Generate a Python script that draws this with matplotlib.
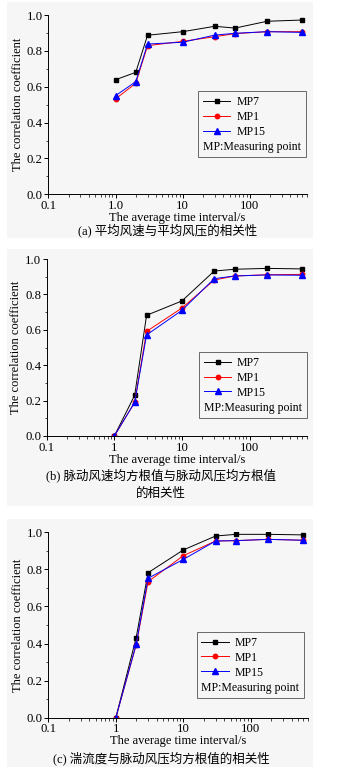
import matplotlib
matplotlib.use('Agg')
import matplotlib.pyplot as plt
from matplotlib.patches import Rectangle
from matplotlib.ticker import FixedLocator, MultipleLocator, FixedFormatter, NullFormatter, FormatStrFormatter

plt.rcParams['font.family'] = ['Liberation Serif', 'Noto Sans CJK SC']
plt.rcParams['font.size'] = 9

# averaging time intervals (s)
intervals = [1, 2, 3, 10, 30, 60, 180, 600]

# (a) mean wind speed vs mean wind pressure
a_mp7 = [0.639, 0.680, 0.887, 0.907, 0.937, 0.927, 0.965, 0.972]
a_mp1 = [0.532, 0.619, 0.829, 0.853, 0.879, 0.896, 0.907, 0.907]
a_mp15 = [0.550, 0.628, 0.838, 0.848, 0.888, 0.898, 0.907, 0.903]

# (b) rms of fluctuating speed vs rms of fluctuating pressure
b_mp7 = [0.0, 0.230, 0.682, 0.763, 0.932, 0.942, 0.947, 0.944]
b_mp1 = [0.0, 0.190, 0.591, 0.723, 0.881, 0.904, 0.911, 0.913]
b_mp15 = [0.0, 0.190, 0.571, 0.710, 0.889, 0.904, 0.910, 0.908]

# (c) turbulence intensity vs rms of fluctuating pressure
c_mp7 = [0.0, 0.432, 0.782, 0.905, 0.980, 0.989, 0.989, 0.986]
c_mp1 = [0.0, 0.392, 0.734, 0.874, 0.953, 0.955, 0.962, 0.957]
c_mp15 = [0.0, 0.396, 0.752, 0.854, 0.953, 0.955, 0.962, 0.957]

xtick_vals = [0.1, 1, 10, 100]
xtick_a = ['0.1', '1.0', '10', '100']
xtick_bc = ['0.1', '1', '10', '100']

captions = ['(a) 平均风速与平均风压的相关性',
            '(b) 脉动风速均方根值与脉动风压均方根值\n的相关性',
            '(c) 湍流度与脉动风压均方根值的相关性']

fig = plt.figure(figsize=(3.43, 7.69), dpi=100)
W, H = 343, 769

# light grey panels behind each sub-figure
for y0, y1 in [(2, 238), (249, 506), (519, 767)]:
    fig.patches.append(Rectangle((7 / W, 1 - y1 / H), 306 / W, (y1 - y0) / H,
                                 transform=fig.transFigure, facecolor='#f6f6f6',
                                 edgecolor='none', zorder=-5))

# axes boxes in pixels: left, right, top, bottom
boxes = [(48.3, 306.7, 15, 194.3), (46.7, 306.7, 259, 436), (48.3, 308, 532.3, 717.7)]
datasets = [(a_mp7, a_mp1, a_mp15), (b_mp7, b_mp1, b_mp15), (c_mp7, c_mp1, c_mp15)]
legend_anchor = [(0.997, 0.206), (1.0, 0.10), (0.985, 0.105)]
caption_x = [0.49, 0.47, 0.471]
caption_y = [230.7, 484, 758]

for i in range(3):
    l, r, t, b = boxes[i]
    ax = fig.add_axes([l / W, 1 - b / H, (r - l) / W, (b - t) / H])
    ax.patch.set_alpha(0)
    mp7, mp1, mp15 = datasets[i]
    ax.plot(intervals, mp7, color='black', lw=0.7, marker='s', ms=3.2, label='MP7')
    ax.plot(intervals, mp1, color='red', lw=0.7, marker='o', ms=3.2, label='MP1')
    ax.plot(intervals, mp15, color='blue', lw=0.7, marker='^', ms=3.8, label='MP15')
    ax.plot([], [], ls='none', label='MP:Measuring point')

    ax.set_xscale('log')
    ax.set_xlim(0.1, 700)
    ax.set_ylim(0, 1.0)
    ax.xaxis.set_major_locator(FixedLocator(xtick_vals))
    ax.xaxis.set_major_formatter(FixedFormatter(xtick_a if i == 0 else xtick_bc))
    ax.xaxis.set_minor_formatter(NullFormatter())
    ax.yaxis.set_major_locator(MultipleLocator(0.2))
    ax.yaxis.set_minor_locator(MultipleLocator(0.1))
    ax.yaxis.set_major_formatter(FormatStrFormatter('%.1f'))
    ax.spines['top'].set_visible(False)
    ax.spines['right'].set_visible(False)
    for s in ['left', 'bottom']:
        ax.spines[s].set_linewidth(0.7)
    ax.tick_params(which='major', direction='out', length=3, width=0.7, labelsize=9.2, pad=1)
    ax.tick_params(which='minor', direction='out', length=1.8, width=0.5)

    ax.set_xlabel('The average time interval/s', fontsize=9, labelpad=0)
    ax.set_ylabel('The correlation coefficient', fontsize=9, labelpad=2)

    leg = ax.legend(loc='lower right', bbox_to_anchor=legend_anchor[i], fontsize=8.5,
                    frameon=True, fancybox=False, handlelength=2.3,
                    handletextpad=0.5, borderpad=0.4, labelspacing=0.25,
                    borderaxespad=0)
    leg.get_frame().set_edgecolor('#444444')
    leg.get_frame().set_linewidth(0.7)
    leg.get_frame().set_facecolor('none')
    # last entry has no handle: let its text start at the left edge
    rows = leg._legend_handle_box.get_children()[0].get_children()
    last = rows[3]
    last.sep = 0
    last.get_children()[0].width = 0

    fig.text(caption_x[i], 1 - caption_y[i] / H, captions[i], ha='center', va='center',
             fontsize=9, linespacing=1.6)

fig.savefig('out.png', dpi=100)
